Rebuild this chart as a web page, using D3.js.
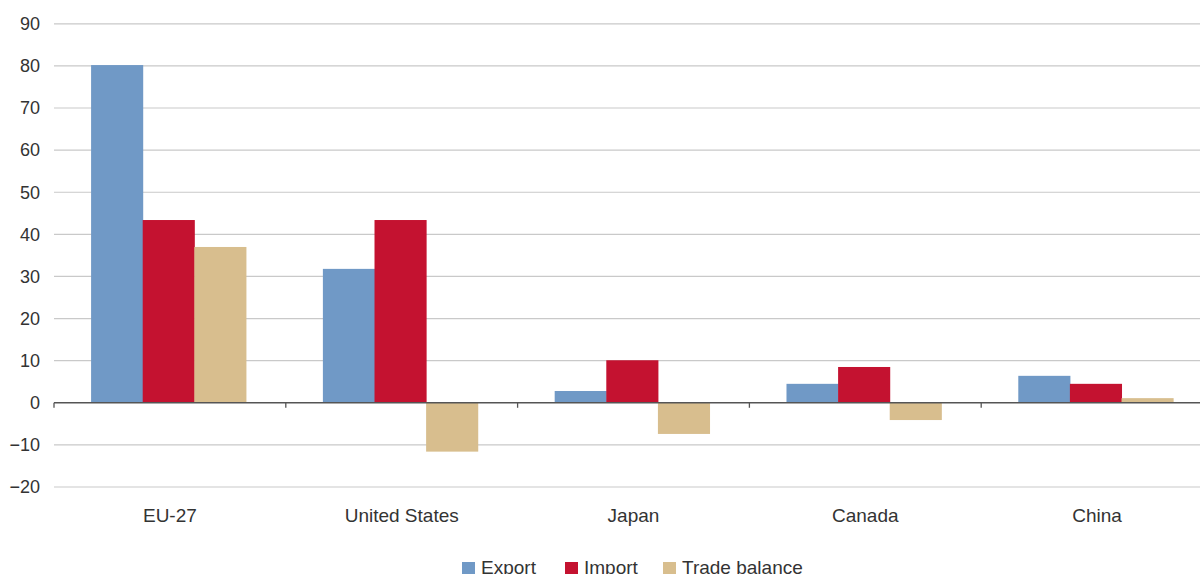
<!DOCTYPE html>
<html><head><meta charset="utf-8">
<script src="https://cdn.jsdelivr.net/npm/d3@7"></script>
<style>body{margin:0;background:#fff}svg{display:block}text{font-family:"Liberation Sans",Arial,sans-serif;fill:#333}</style>
</head><body><svg id="c" width="1200" height="574"></svg>
<script>
const categories = ["EU-27","United States","Japan","Canada","China"];
const seriesNames = ["Export","Import","Trade balance"];
const exportVals = [80.2,31.8,2.8,4.5,6.4];
const importVals = [43.4,43.4,10.1,8.5,4.5];
const balanceVals = [37.0,-11.6,-7.4,-4.1,1.1];
const yTicks = [-20,-10,0,10,20,30,40,50,60,70,80,90];
const colors = ["#7099c6","#c41230","#d8be8e"];

const series = [exportVals, importVals, balanceVals];
const svg = d3.select("#c");
const x0 = d3.scaleBand().domain(categories).range([54,1213]).padding(0);
const bw = x0.bandwidth();
const x1 = d3.scaleBand().domain(seriesNames).range([bw*0.16, bw*0.828]).padding(0);
const y = d3.scaleLinear().domain([-20,90]).range([487,23.8]);

// grid
svg.append("g").selectAll("line").data(yTicks.filter(t=>t!==0)).join("line")
  .attr("x1",54).attr("x2",1200).attr("y1",d=>y(d)).attr("y2",d=>y(d))
  .attr("stroke","#c9c9c9").attr("stroke-width",1.2);

// y labels
const yAxis = d3.axisLeft(y).tickValues(yTicks).tickSize(0).tickPadding(14);
const ya = svg.append("g").attr("transform","translate(54,0)").call(yAxis);
ya.select(".domain").remove();
ya.selectAll("text").style("font-size","18px").attr("fill","#333");

// bars
const data = [];
categories.forEach((c,i)=>seriesNames.forEach((s,j)=>data.push({c,s,v:series[j][i],j})));
svg.append("g").selectAll("rect").data(data).join("rect")
  .attr("x",d=>x0(d.c)+x1(d.s)).attr("width",x1.bandwidth()+0.5)
  .attr("y",d=>y(Math.max(0,d.v))).attr("height",d=>Math.abs(y(d.v)-y(0)))
  .attr("fill",d=>colors[d.j]);

// zero axis
svg.append("line").attr("x1",54).attr("x2",1200).attr("y1",y(0)).attr("y2",y(0))
  .attr("stroke","#555").attr("stroke-width",1.5);
svg.append("g").selectAll("line").data(categories).join("line")
  .attr("x1",d=>x0(d)).attr("x2",d=>x0(d)).attr("y1",y(0)).attr("y2",y(0)+5)
  .attr("stroke","#555").attr("stroke-width",1.3);

// category labels
svg.append("g").selectAll("text").data(categories).join("text")
  .attr("x",d=>x0(d)+bw/2).attr("y",522).attr("text-anchor","middle")
  .style("font-size","19px").text(d=>d);

// legend
const legX = [462,565,663];
const lg = svg.append("g").selectAll("g").data(seriesNames).join("g")
  .attr("transform",(d,i)=>`translate(${legX[i]},0)`);
lg.append("rect").attr("x",0).attr("y",562).attr("width",13).attr("height",13).attr("fill",(d,i)=>colors[i]);
lg.append("text").attr("x",19).attr("y",574).style("font-size","19px").text(d=>d);
</script></body></html>
